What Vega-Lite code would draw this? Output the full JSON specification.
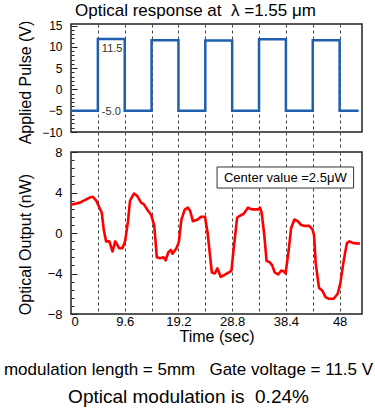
{
  "$schema": "https://vega.github.io/schema/vega-lite/v6.json",
  "padding": {"left": 3, "top": 0, "right": 3, "bottom": 3},
  "background": "white",
  "config": {
    "font": "Liberation Sans",
    "view": {"stroke": "#222", "strokeWidth": 1.5},
    "axis": {"labelFont": "Liberation Sans", "labelColor": "#000", "titleFont": "Liberation Sans", "titleFontSize": 16, "titleFontWeight": "normal", "titleColor": "#000", "domain": false},
    "title": {"font": "Liberation Sans", "fontWeight": "normal", "color": "#000", "subtitleFont": "Liberation Sans", "subtitleColor": "#000"}
  },
  "spacing": -4,
  "vconcat": [
    {
      "width": 291,
      "height": 108,
      "title": {"text": "Optical response at\u00a0 λ =1.55 μm", "fontSize": 17, "anchor": "middle", "frame": "group", "dx": -21, "offset": 0},
      "encoding": {
        "x": {"field": "t", "type": "quantitative", "scale": {"domain": [0, 52], "nice": false, "zero": false},
          "axis": {"values": [4.8, 9.6, 14.4, 19.2, 24, 28.8, 33.6, 38.4, 43.2, 48], "labels": false, "title": null, "grid": true, "gridDash": [3, 3], "gridColor": "#444", "gridWidth": 1, "ticks": true, "tickSize": 15, "tickDash": [3, 3], "tickColor": "#444", "tickWidth": 1}}
      },
      "layer": [
        {
          "data": {"values": [
            {"t": 0, "v": -5}, {"t": 4.8, "v": 11.9}, {"t": 9.6, "v": -5}, {"t": 14.4, "v": 11.6},
            {"t": 19.2, "v": -5}, {"t": 24, "v": 11.5}, {"t": 28.8, "v": -5}, {"t": 33.6, "v": 11.8},
            {"t": 38.4, "v": -5}, {"t": 43.2, "v": 11.6}, {"t": 48, "v": -5}, {"t": 51.4, "v": -5}
          ]},
          "mark": {"type": "line", "interpolate": "step-after", "color": "#1f5fae", "strokeWidth": 2.5},
          "encoding": {
            "y": {"field": "v", "type": "quantitative", "scale": {"domain": [-10, 15.4], "nice": false, "zero": false},
              "axis": {"values": [-10, -5, 0, 5, 10, 15], "labelFontSize": 12, "ticks": false, "labelPadding": 9, "title": "Applied Pulse (V)", "titleX": -38, "titleY": 58, "grid": false}}
          }
        },
        {
          "data": {"values": [
            {"t": 4.8, "v": 9.5, "label": "11.5"},
            {"t": 4.8, "v": -5.3, "label": "-5.0"}
          ]},
          "mark": {"type": "text", "align": "left", "baseline": "middle", "dx": 4, "fontSize": 11, "color": "#333"},
          "encoding": {
            "y": {"field": "v", "type": "quantitative",
              "axis": {"orient": "right", "offset": -291, "values": [-10, -9, -8, -7, -6, -5, -4, -3, -2, -1, 0, 1, 2, 3, 4, 5, 6, 7, 8, 9, 10, 11, 12, 13, 14, 15], "labels": false, "title": null, "grid": false, "ticks": true, "tickSize": {"condition": {"test": "datum.value % 5 == 0", "value": 6}, "value": 3}, "tickColor": "#222", "tickWidth": 1}},
            "text": {"field": "label"}
          }
        }
      ],
      "resolve": {"axis": {"y": "independent"}}
    },
    {
      "width": 291,
      "height": 162,
      "title": {"text": "modulation length = 5mm\u00a0\u00a0 Gate voltage = 11.5 V", "subtitle": "Optical modulation is\u00a0 0.24%", "orient": "bottom", "fontSize": 17, "subtitleFontSize": 19, "subtitlePadding": 9, "anchor": "middle", "frame": "group", "dx": -28, "offset": 18},
      "encoding": {
        "x": {"field": "t", "type": "quantitative", "scale": {"domain": [0, 52], "nice": false, "zero": false},
          "axis": {"values": [0, 4.8, 9.6, 14.4, 19.2, 24, 28.8, 33.6, 38.4, 43.2, 48], "format": ".1~f", "labelExpr": "round(datum.value / 4.8) % 2 == 0 ? datum.label : ''", "labelFontSize": 13, "labelPadding": 1, "ticks": false, "grid": true, "gridDash": [3, 3], "gridWidth": 1, "gridColor": {"condition": {"test": "datum.value == 0", "value": "transparent"}, "value": "#444"}, "title": "Time (sec)", "titlePadding": 0}}
      },
      "layer": [
        {
          "data": {"values": [
            {"t": 0, "o": 2.8}, {"t": 1.58, "o": 3.0}, {"t": 2.46, "o": 3.24}, {"t": 3.34, "o": 3.5}, {"t": 3.92, "o": 3.57},
            {"t": 4.51, "o": 3.2}, {"t": 5.09, "o": 2.5}, {"t": 5.5, "o": 2.0}, {"t": 5.85, "o": 0.34}, {"t": 6.27, "o": -0.83},
            {"t": 6.85, "o": -0.83}, {"t": 7.43, "o": -1.83}, {"t": 7.9, "o": -0.83}, {"t": 8.61, "o": -1.5}, {"t": 9.19, "o": -1.5},
            {"t": 9.66, "o": -0.83}, {"t": 10.19, "o": 1.17}, {"t": 10.54, "o": 3.17}, {"t": 11.24, "o": 3.9}, {"t": 11.82, "o": 3.67},
            {"t": 12.52, "o": 3.0}, {"t": 13.0, "o": 2.85}, {"t": 13.7, "o": 2.24}, {"t": 14.35, "o": 1.77}, {"t": 14.88, "o": 0.7},
            {"t": 15.33, "o": -2.4}, {"t": 15.93, "o": -2.5}, {"t": 16.51, "o": -2.4}, {"t": 16.91, "o": -2.7}, {"t": 17.39, "o": -1.9},
            {"t": 17.86, "o": -1.67}, {"t": 18.14, "o": -2.05}, {"t": 18.84, "o": -1.5}, {"t": 19.27, "o": -0.9}, {"t": 19.72, "o": 1.3},
            {"t": 20.32, "o": 2.3}, {"t": 20.9, "o": 2.5}, {"t": 21.3, "o": 2.17}, {"t": 21.78, "o": 1.17}, {"t": 22.66, "o": 1.33},
            {"t": 23.23, "o": 1.6}, {"t": 23.94, "o": 1.6}, {"t": 24.41, "o": 0.0}, {"t": 25.17, "o": -3.9}, {"t": 25.69, "o": -4.0},
            {"t": 26.17, "o": -3.5}, {"t": 26.75, "o": -4.33}, {"t": 27.34, "o": -4.17}, {"t": 28.22, "o": -3.9}, {"t": 28.68, "o": -3.7},
            {"t": 28.98, "o": -2.0}, {"t": 29.68, "o": 1.5}, {"t": 30.08, "o": 1.67}, {"t": 30.86, "o": 1.9}, {"t": 31.61, "o": 2.5},
            {"t": 32.31, "o": 2.33}, {"t": 33.49, "o": 2.33}, {"t": 33.77, "o": 2.5}, {"t": 34.07, "o": 2.0}, {"t": 34.54, "o": -0.2},
            {"t": 34.95, "o": -2.75}, {"t": 35.53, "o": -2.9}, {"t": 35.95, "o": -3.2}, {"t": 36.41, "o": -3.9}, {"t": 37.0, "o": -4.1},
            {"t": 37.58, "o": -3.7}, {"t": 38.06, "o": -3.8}, {"t": 38.34, "o": -4.0}, {"t": 38.87, "o": -1.83}, {"t": 39.34, "o": 0.5},
            {"t": 39.92, "o": 1.33}, {"t": 40.52, "o": 1.17}, {"t": 41.1, "o": 0.8}, {"t": 41.8, "o": 0.7}, {"t": 42.55, "o": 0.7},
            {"t": 43.15, "o": 0.35}, {"t": 43.43, "o": -0.2}, {"t": 43.73, "o": -3.0}, {"t": 44.31, "o": -5.4}, {"t": 44.91, "o": -5.7},
            {"t": 45.49, "o": -6.33}, {"t": 46.07, "o": -6.5}, {"t": 46.94, "o": -6.5}, {"t": 47.65, "o": -6.0}, {"t": 48.12, "o": -5.0},
            {"t": 48.7, "o": -2.83}, {"t": 49.3, "o": -1.0}, {"t": 49.75, "o": -0.83}, {"t": 50.46, "o": -1.0}, {"t": 51.63, "o": -1.05}
          ]},
          "mark": {"type": "line", "color": "#ff0000", "strokeWidth": 2.6, "strokeJoin": "round"},
          "encoding": {
            "y": {"field": "o", "type": "quantitative", "scale": {"domain": [-8, 8], "nice": false, "zero": false},
              "axis": {"values": [-8, -4, 0, 4, 8], "labelFontSize": 13, "ticks": false, "labelPadding": 9, "title": "Optical Output (nW)", "titleX": -38, "titleY": 92, "grid": false}}
          }
        },
        {
          "data": {"values": [{"t": 26.1, "t2": 50.5, "o": 4.44, "o2": 6.52}]},
          "mark": {"type": "rect", "fill": "white", "stroke": "#333", "strokeWidth": 1},
          "encoding": {
            "x2": {"field": "t2"},
            "y": {"field": "o", "type": "quantitative",
              "axis": {"orient": "right", "offset": -291, "values": [-8, -7.2, -6.4, -5.6, -4.8, -4, -3.2, -2.4, -1.6, -0.8, 0, 0.8, 1.6, 2.4, 3.2, 4, 4.8, 5.6, 6.4, 7.2, 8], "labels": false, "title": null, "grid": false, "ticks": true, "tickSize": {"condition": {"test": "abs(round(datum.value * 10)) % 40 == 0", "value": 6}, "value": 3}, "tickColor": "#222", "tickWidth": 1}},
            "y2": {"field": "o2"}
          }
        },
        {
          "data": {"values": [{"t": 38.3, "o": 5.48, "label": "Center value =2.5μW"}]},
          "mark": {"type": "text", "align": "center", "baseline": "middle", "fontSize": 13, "color": "#000"},
          "encoding": {
            "y": {"field": "o", "type": "quantitative", "axis": null},
            "text": {"field": "label"}
          }
        }
      ],
      "resolve": {"axis": {"y": "independent"}}
    }
  ]
}
